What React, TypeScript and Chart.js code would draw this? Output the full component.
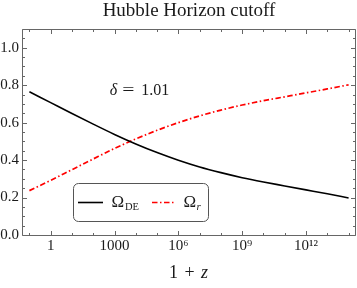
import React, { useEffect, useRef } from 'react';
import { Chart, registerables } from 'chart.js';

Chart.register(...registerables);

// ---- data ----
const onePlusZ = [0.1, 1, 10, 100, 1e3, 1e4, 1e5, 1e6, 1e7, 1e8, 1e9, 1e10, 1e11, 1e12, 1e13, 1e14];
const omegaDE = [0.765, 0.707, 0.649, 0.592, 0.537, 0.486, 0.44, 0.399, 0.363, 0.333, 0.306, 0.283, 0.262, 0.241, 0.22, 0.198];
const omegaR = [0.237, 0.292, 0.349, 0.406, 0.462, 0.513, 0.559, 0.6, 0.636, 0.667, 0.694, 0.717, 0.738, 0.759, 0.78, 0.802];

const xMin = 0.05;
const xMax = 2e14;
const yMin = 0;
const yMax = 1.1;

const xMajorTicks = [1, 1e3, 1e6, 1e9, 1e12];
const xTickLabels = ['1', '1000', '10⁶', '10⁹', '10¹²'];
const xMinorTicks = [0.1, 1, 10, 100, 1e3, 1e4, 1e5, 1e6, 1e7, 1e8, 1e9, 1e10, 1e11, 1e12, 1e13, 1e14];
const yMajorTicks = [0, 0.2, 0.4, 0.6, 0.8, 1.0];
const yTickLabels = ['0.0', '0.2', '0.4', '0.6', '0.8', '1.0'];
const yMinorTicks = [0, 0.05, 0.1, 0.15, 0.2, 0.25, 0.3, 0.35, 0.4, 0.45, 0.5, 0.55, 0.6, 0.65, 0.7, 0.75, 0.8, 0.85, 0.9, 0.95, 1.0, 1.05, 1.1];

const titleText = 'Hubble Horizon cutoff';
const annotationPos = { x: 600, y: 0.747 };
const annotationValue = '1.01';
const seriesLabels = ['ΩDE', 'Ωr'];

const serif = "'Liberation Serif', 'Times New Roman', serif";
const frameColor = '#666666';
const textColor = '#1a1a1a';

const decorPlugin = {
  id: 'decor',
  afterDraw(chart: any) {
    const { ctx, chartArea: a, scales } = chart;
    const xs = scales.x;
    const ys = scales.y;
    ctx.save();
    // frame
    ctx.strokeStyle = frameColor;
    ctx.lineWidth = 1;
    const L = a.left - 0.5;
    const R = a.right + 0.5;
    const T = a.top + 0.5;
    const B = a.bottom + 0.5;
    ctx.beginPath();
    ctx.moveTo(L, T);
    ctx.lineTo(R, T);
    ctx.lineTo(R, B);
    ctx.lineTo(L, B);
    ctx.closePath();
    ctx.stroke();

    // inward ticks
    const tick = (horiz: boolean, p: number, len: number) => {
      ctx.beginPath();
      if (horiz) {
        ctx.moveTo(p, B);
        ctx.lineTo(p, B - len);
        ctx.moveTo(p, T);
        ctx.lineTo(p, T + len);
      } else {
        ctx.moveTo(L, p);
        ctx.lineTo(L + len, p);
        ctx.moveTo(R, p);
        ctx.lineTo(R - len, p);
      }
      ctx.stroke();
    };
    xMinorTicks.forEach((v) => {
      const major = xMajorTicks.includes(v);
      tick(true, Math.round(xs.getPixelForValue(v)) + 0.5, major ? 4.5 : 2.5);
    });
    yMinorTicks.forEach((v) => {
      const major = yMajorTicks.some((m) => Math.abs(m - v) < 1e-9);
      tick(false, Math.round(ys.getPixelForValue(v)) + 0.5, major ? 4.5 : 2.5);
    });

    // x axis title "1 + z"
    ctx.fillStyle = textColor;
    ctx.textBaseline = 'alphabetic';
    ctx.textAlign = 'center';
    const cx = (a.left + a.right) / 2;
    const ty = a.bottom + 43;
    ctx.font = `18px ${serif}`;
    ctx.fillText('1', cx - 15.5, ty);
    ctx.fillText('+', cx + 0.7, ty);
    ctx.font = `italic 18px ${serif}`;
    ctx.fillText('z', cx + 15.5, ty);

    // annotation δ = 1.01
    const ax = xs.getPixelForValue(annotationPos.x);
    const ay = ys.getPixelForValue(annotationPos.y);
    ctx.textAlign = 'left';
    ctx.font = `italic 16px ${serif}`;
    ctx.fillText('δ', ax, ay);
    ctx.font = `16px ${serif}`;
    ctx.save();
    ctx.translate(ax + 12.5, ay);
    ctx.scale(1.35, 1);
    ctx.fillText('=', 0, 0);
    ctx.restore();
    ctx.fillText(annotationValue, ax + 31.5, ay);

    // legend box
    const bx = a.left + 50;
    const by = a.bottom - 52;
    const bw = 135;
    const bh = 38;
    ctx.beginPath();
    ctx.roundRect(bx + 0.5, by + 0.5, bw, bh, 5);
    ctx.fillStyle = '#ffffff';
    ctx.fill();
    ctx.strokeStyle = '#555555';
    ctx.lineWidth = 1;
    ctx.stroke();

    const ly = by + 19.5;
    const ds = chart.data.datasets;
    // entry 1
    ctx.setLineDash(ds[0].borderDash || []);
    ctx.strokeStyle = ds[0].borderColor;
    ctx.lineWidth = ds[0].borderWidth;
    ctx.beginPath();
    ctx.moveTo(bx + 5, ly);
    ctx.lineTo(bx + 30, ly);
    ctx.stroke();
    // entry 2
    ctx.setLineDash(ds[1].borderDash || []);
    ctx.strokeStyle = ds[1].borderColor;
    ctx.lineWidth = ds[1].borderWidth;
    ctx.beginPath();
    ctx.moveTo(bx + 79, ly);
    ctx.lineTo(bx + 102, ly);
    ctx.stroke();
    ctx.setLineDash([]);

    ctx.fillStyle = textColor;
    ctx.textAlign = 'left';
    const base = by + 24;
    ctx.font = `17px ${serif}`;
    ctx.fillText(seriesLabels[0].charAt(0), bx + 38.5, base);
    ctx.font = `10.5px ${serif}`;
    ctx.fillText(seriesLabels[0].slice(1), bx + 52, base + 3);
    ctx.font = `17px ${serif}`;
    ctx.fillText(seriesLabels[1].charAt(0), bx + 110.5, base);
    ctx.font = `italic 11px ${serif}`;
    ctx.fillText(seriesLabels[1].slice(1), bx + 123.5, base + 3);

    ctx.restore();
  },
};

export default function App() {
  const ref = useRef<HTMLCanvasElement>(null);
  useEffect(() => {
    const canvas = ref.current;
    if (!canvas) return;
    const chart = new Chart(canvas, {
      type: 'line',
      data: {
        datasets: [
          {
            label: seriesLabels[0],
            data: onePlusZ.map((x, i) => ({ x, y: omegaDE[i] })),
            borderColor: '#000000',
            borderWidth: 1.6,
            pointRadius: 0,
            cubicInterpolationMode: 'monotone',
            fill: false,
          },
          {
            label: seriesLabels[1],
            data: onePlusZ.map((x, i) => ({ x, y: omegaR[i] })),
            borderColor: '#ff0000',
            borderWidth: 1.7,
            borderDash: [5.5, 2.5, 1.5, 2.5],
            pointRadius: 0,
            cubicInterpolationMode: 'monotone',
            fill: false,
          },
        ] as any,
      },
      options: {
        responsive: false,
        animation: false,
        events: [],
        layout: { padding: { left: 0, right: 2, top: 0, bottom: 0 } },
        plugins: {
          legend: { display: false },
          tooltip: { enabled: false },
          title: {
            display: true,
            text: titleText,
            fullSize: false,
            color: textColor,
            font: { family: serif, size: 19, weight: 'normal', lineHeight: 1.2 },
            padding: { top: 0, bottom: 6.2 },
          },
        },
        scales: {
          x: {
            type: 'logarithmic',
            min: xMin,
            max: xMax,
            grid: { display: false, drawTicks: false },
            border: { display: false },
            afterBuildTicks: (s: any) => {
              s.ticks = xMajorTicks.map((v) => ({ value: v }));
            },
            afterFit: (s: any) => {
              s.height = 53;
            },
            ticks: {
              autoSkip: false,
              maxRotation: 0,
              padding: 2,
              color: textColor,
              font: { family: serif, size: 15 },
              callback: (_v: any, i: number) => xTickLabels[i],
            },
          },
          y: {
            type: 'linear',
            min: yMin,
            max: yMax,
            grid: { display: false, drawTicks: false },
            border: { display: false },
            afterBuildTicks: (s: any) => {
              s.ticks = yMajorTicks.map((v) => ({ value: v }));
            },
            afterFit: (s: any) => {
              s.width = 23;
            },
            ticks: {
              autoSkip: false,
              padding: 4,
              color: textColor,
              font: { family: serif, size: 15 },
              callback: (_v: any, i: number) => yTickLabels[i],
            },
          },
        },
      } as any,
      plugins: [decorPlugin],
    });
    return () => chart.destroy();
  }, []);
  return (
    <div style={{ position: 'fixed', left: 0, top: 0, width: 357, height: 288, background: '#ffffff' }}>
      <canvas ref={ref} width={357} height={288} style={{ display: 'block' }} />
    </div>
  );
}
